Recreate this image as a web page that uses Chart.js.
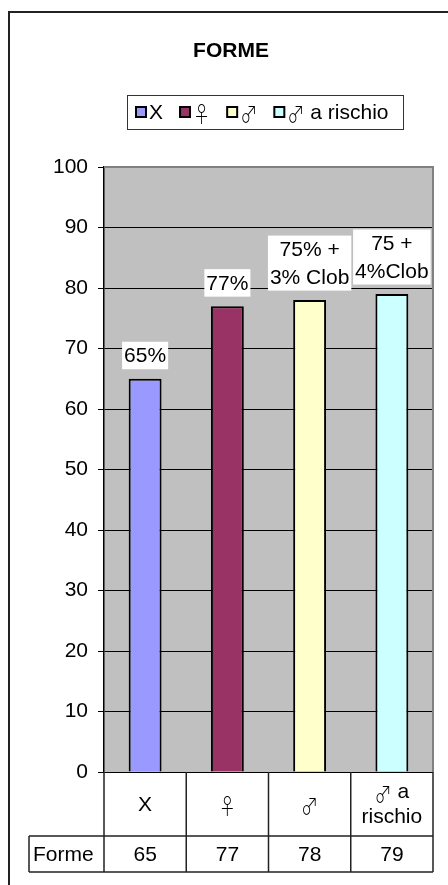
<!DOCTYPE html>
<html>
<head>
<meta charset="utf-8">
<script src="https://cdn.jsdelivr.net/npm/chart.js@4.4.1/dist/chart.umd.min.js"></script>
<style>
  html, body { margin: 0; padding: 0; background: #fff; overflow: hidden; }
  #wrap { width: 448px; height: 885px; position: relative; }
</style>
</head>
<body>
<div id="wrap"><canvas id="c" width="448" height="885"></canvas></div>
<script>
// Categories, series and labels
const chartTitle = 'FORME';
const categories = ['X', '♀', '♂', '♂ a rischio'];
const tableHeaders = [['X'], ['♀'], ['♂'], ['♂ a', 'rischio']];
const seriesName = 'Forme';
const values = [65, 77, 78, 79];
const barLabels = [['65%'], ['77%'], ['75% +', '3% Clob'], ['75 +', '4%Clob']];
const barColors = ['#9999FF', '#993366', '#FFFFCC', '#CCFFFF'];
const yMin = 0, yMax = 100, yStep = 10;

const FONT = "'Liberation Sans', Arial, sans-serif";
const SYMBOL_FONT = "300 22px 'Noto Sans CJK JP', 'DejaVu Sans', sans-serif";
const SYMBOL_SQUEEZE = 0.78; // gender signs are narrow, upright glyphs
const font = (size, bold) => (bold ? 'bold ' : '') + size + 'px ' + FONT;
const SYMBOLS = /[♀♂]/;

// Splits text into runs so gender signs use a font that carries them
function runs(text) {
  const out = [];
  for (const ch of text) {
    const sym = SYMBOLS.test(ch);
    const last = out[out.length - 1];
    if (last && last.sym === sym) last.t += ch; else out.push({ t: ch, sym });
  }
  return out;
}
function runWidth(ctx, r, baseFont) {
  ctx.font = r.sym ? SYMBOL_FONT : baseFont;
  const w = ctx.measureText(r.t).width;
  return r.sym ? w * SYMBOL_SQUEEZE : w;
}
function mixedWidth(ctx, text, baseFont) {
  return runs(text).reduce((s, r) => s + runWidth(ctx, r, baseFont), 0);
}
function drawMixed(ctx, text, x, y, align, baseFont) {
  const w = mixedWidth(ctx, text, baseFont);
  let cx = align === 'center' ? x - w / 2 : x;
  ctx.save();
  ctx.textAlign = 'left';
  ctx.textBaseline = 'middle';
  for (const r of runs(text)) {
    const rw = runWidth(ctx, r, baseFont);
    ctx.font = r.sym ? SYMBOL_FONT : baseFont;
    if (r.sym) {
      ctx.save();
      ctx.translate(cx, y + 1);
      ctx.scale(SYMBOL_SQUEEZE, 1);
      ctx.fillText(r.t, 0, 0);
      ctx.restore();
    } else {
      ctx.fillText(r.t, cx, y);
    }
    cx += rw;
  }
  ctx.restore();
  return w;
}

// Frame, title, legend, value labels and data table drawn around the bar chart
const decor = {
  id: 'decor',
  beforeDraw(chart) {
    const { ctx, chartArea: a } = chart;
    ctx.save();
    ctx.fillStyle = '#fff';
    ctx.fillRect(0, 0, chart.width, chart.height);
    ctx.fillStyle = '#C0C0C0';
    ctx.fillRect(a.left, a.top, a.right - a.left, a.bottom - a.top);
    // outer chart frame
    ctx.strokeStyle = '#222';
    ctx.lineWidth = 2;
    ctx.beginPath();
    ctx.moveTo(9, chart.height + 5);
    ctx.lineTo(9, 12);
    ctx.lineTo(chart.width + 5, 12);
    ctx.stroke();
    ctx.restore();
  },
  afterDatasetsDraw(chart) {
    const { ctx, chartArea: a } = chart;
    ctx.save();
    // plot border (top and right)
    ctx.strokeStyle = '#808080';
    ctx.lineWidth = 2;
    ctx.beginPath();
    ctx.moveTo(a.left, a.top);
    ctx.lineTo(a.right, a.top);
    ctx.lineTo(a.right, a.bottom);
    ctx.stroke();

    // value labels above bars
    const meta = chart.getDatasetMeta(0);
    ctx.font = font(21);
    ctx.textAlign = 'center';
    ctx.textBaseline = 'middle';
    const lh = 27.5;
    meta.data.forEach((bar, i) => {
      const lines = barLabels[i];
      const w = Math.max(...lines.map(t => ctx.measureText(t).width)) + 4;
      const h = lines.length * lh;
      const bottom = bar.y - 9.5;
      const top = bottom - h;
      ctx.fillStyle = '#fff';
      ctx.fillRect(bar.x - w / 2, top, w, h);
      ctx.fillStyle = '#000';
      lines.forEach((t, j) => ctx.fillText(t, bar.x, top + lh / 2 + j * lh + 1));
    });
    ctx.restore();
  },
  afterDraw(chart) {
    const { ctx, chartArea: a } = chart;
    const xs = chart.scales.x;
    ctx.save();

    // title
    ctx.fillStyle = '#000';
    ctx.font = font(21, true);
    ctx.textAlign = 'center';
    ctx.textBaseline = 'middle';
    ctx.fillText(chartTitle, 231, 51);

    // legend
    ctx.strokeStyle = '#333';
    ctx.lineWidth = 1;
    ctx.strokeRect(127.5, 95.5, 276, 34);
    let x = 135;
    const ly = 112;
    categories.forEach((c, i) => {
      ctx.fillStyle = barColors[i];
      ctx.fillRect(x + 1, ly - 5, 10, 10);
      ctx.strokeStyle = '#000';
      ctx.lineWidth = 2;
      ctx.strokeRect(x + 1, ly - 5, 10, 10);
      ctx.fillStyle = '#000';
      const tx = x + 14;
      const w = drawMixed(ctx, c, tx, ly + 1, 'left', font(21));
      x = tx + w + 16;
    });

    // data table under the plot
    const n = categories.length;
    const cw = (a.right - a.left) / n;
    const r1 = a.bottom, r2 = a.bottom + 64, r3 = a.bottom + 100;
    const tableLeft = 29;
    ctx.strokeStyle = '#222';
    ctx.lineWidth = 1.5;
    ctx.beginPath();
    for (let i = 0; i <= n; i++) {
      const bx = a.left + i * cw;
      ctx.moveTo(bx, r1);
      ctx.lineTo(bx, r3);
    }
    ctx.moveTo(tableLeft, r2); ctx.lineTo(a.right, r2);
    ctx.moveTo(tableLeft, r3); ctx.lineTo(a.right, r3);
    ctx.moveTo(tableLeft, r2); ctx.lineTo(tableLeft, r3);
    ctx.stroke();

    ctx.fillStyle = '#000';
    tableHeaders.forEach((lines, i) => {
      const cx = xs.getPixelForValue(i);
      const mid = (r1 + r2) / 2;
      const step = 25;
      lines.forEach((t, j) => {
        drawMixed(ctx, t, cx, mid + (j - (lines.length - 1) / 2) * step + 1, 'center', font(21));
      });
      drawMixed(ctx, String(values[i]), cx, (r2 + r3) / 2 + 1, 'center', font(21));
    });
    drawMixed(ctx, seriesName, 33, (r2 + r3) / 2 + 1, 'left', font(21));
    ctx.restore();
  }
};

new Chart(document.getElementById('c'), {
  type: 'bar',
  data: {
    labels: categories,
    datasets: [{
      label: seriesName,
      data: values,
      backgroundColor: barColors,
      borderColor: '#000',
      borderWidth: 2,
      barPercentage: 0.4,
      categoryPercentage: 1
    }]
  },
  options: {
    responsive: false,
    animation: false,
    layout: { padding: { top: 167, bottom: 113, left: 0, right: 15 } },
    plugins: {
      legend: { display: false },
      title: { display: false },
      tooltip: { enabled: false }
    },
    scales: {
      x: { display: false },
      y: {
        min: yMin,
        max: yMax,
        ticks: { stepSize: yStep, color: '#000', font: { family: FONT, size: 21 }, padding: 10 },
        grid: {
          color: c => (c.tick && c.tick.value === yMax ? '#808080' : '#000'),
          tickColor: '#000',
          tickLength: 6,
          lineWidth: 1
        },
        border: { color: '#000', width: 1.5 },
        afterFit(s) { s.width = 104; }
      }
    }
  },
  plugins: [decor]
});
</script>
</body>
</html>
